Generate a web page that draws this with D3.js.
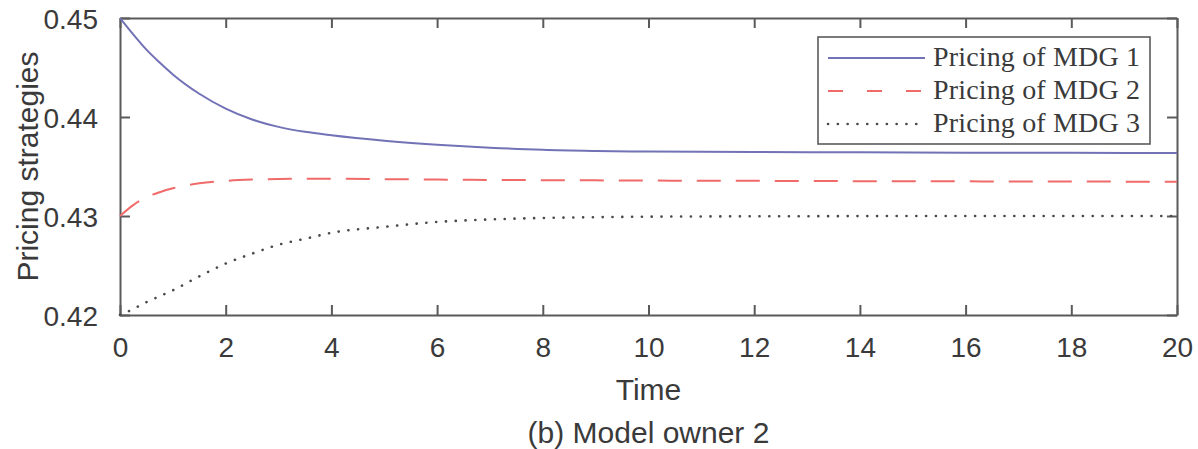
<!DOCTYPE html>
<html>
<head>
<meta charset="utf-8">
<script src="https://cdn.jsdelivr.net/npm/d3@7.9.0/dist/d3.min.js"></script>
<style>
  body { margin: 0; background: #fff; }
  svg { display: block; }
  .axis text { font-family: Arial, "Liberation Sans", sans-serif; fill: #3a3a3a; }
</style>
</head>
<body>
<svg id="chart"></svg>
<script>
// values
const time = [0, 0.25, 0.5, 0.75, 1, 1.5, 2, 2.5, 3, 3.5, 4, 5, 6, 7, 8, 9, 10, 12, 14, 16, 18, 20];
const mdg1 = [0.4500, 0.44835, 0.4468, 0.4455, 0.4443, 0.44235, 0.44085, 0.43975, 0.4390, 0.4385, 0.43815,
  0.4376, 0.4372, 0.4369, 0.43668, 0.43657, 0.43651, 0.43646, 0.43643, 0.43640, 0.43638, 0.43636];
const mdg2 = [0.4300, 0.4311, 0.4319, 0.4324, 0.4328, 0.4333, 0.43355, 0.43368, 0.43374, 0.43376, 0.43376,
  0.43372, 0.43368, 0.43364, 0.43362, 0.43360, 0.43358, 0.43355, 0.43352, 0.43350, 0.43348, 0.43346];
const mdg3 = [0.4200, 0.4206, 0.4213, 0.4219, 0.4225, 0.4239, 0.4252, 0.4262, 0.4271, 0.4277, 0.4283,
  0.4289, 0.4294, 0.42965, 0.4298, 0.42988, 0.42993, 0.42997, 0.42999, 0.4300, 0.4300, 0.4300];
const seriesNames = ['Pricing of MDG 1', 'Pricing of MDG 2', 'Pricing of MDG 3'];
const xTicks = [0, 2, 4, 6, 8, 10, 12, 14, 16, 18, 20];
const yTicks = [0.42, 0.43, 0.44, 0.45];

const width = 1198;
const height = 449;
const margin = { top: 18, right: 21, bottom: 134, left: 120 };

const svg = d3.select('#chart').attr('width', width).attr('height', height);

const x = d3.scaleLinear().domain([0, 20]).range([margin.left, width - margin.right]);
const y = d3.scaleLinear().domain([0.42, 0.45]).range([height - margin.bottom, margin.top]);

const axisColor = '#5a5a5a';

// bottom axis with labels, ticks pointing inward
const gx = svg.append('g').attr('class', 'axis')
  .attr('transform', `translate(0,${y(0.42)})`)
  .call(d3.axisBottom(x).tickValues(xTicks).tickSizeInner(-10).tickSizeOuter(0).tickPadding(22));
gx.selectAll('text').style('font-size', '28px');

const gy = svg.append('g').attr('class', 'axis')
  .attr('transform', `translate(${x(0)},0)`)
  .call(d3.axisLeft(y).tickValues(yTicks).tickFormat(d3.format('.2f')).tickSizeInner(-10).tickSizeOuter(0).tickPadding(22));
gy.selectAll('text').style('font-size', '28px').attr('dy', '0.36em');

// top and right mirrored ticks
svg.append('g').attr('class', 'axis')
  .attr('transform', `translate(0,${y(0.45)})`)
  .call(d3.axisTop(x).tickValues(xTicks).tickSizeInner(-10).tickSizeOuter(0).tickFormat(''));
svg.append('g').attr('class', 'axis')
  .attr('transform', `translate(${x(20)},0)`)
  .call(d3.axisRight(y).tickValues(yTicks).tickSizeInner(-10).tickSizeOuter(0).tickFormat(''));

svg.selectAll('.axis path, .axis line').attr('stroke', axisColor).attr('stroke-width', 2);

// lines
const series = [
  { name: seriesNames[0], values: mdg1, color: '#7272b6', dash: null, legendDash: null },
  { name: seriesNames[1], values: mdg2, color: '#f06a6a', dash: '24,15', legendDash: '15,24' },
  { name: seriesNames[2], values: mdg3, color: '#4a4a4a', dash: '0.1,9.7', legendDash: '0.1,9.7' }
];

const line = d3.line()
  .x((d, i) => x(time[i]))
  .y(d => y(d))
  .curve(d3.curveMonotoneX);

series.forEach(s => {
  svg.append('path')
    .datum(s.values)
    .attr('d', line)
    .attr('fill', 'none')
    .attr('stroke', s.color)
    .attr('stroke-width', s.dash === '0.1,9.7' ? 2.6 : 2)
    .attr('stroke-linecap', s.dash === '0.1,9.7' ? 'round' : 'butt')
    .attr('stroke-dasharray', s.dash);
});

// legend
const legend = svg.append('g').attr('transform', 'translate(818,37)');
legend.append('rect')
  .attr('width', 332).attr('height', 107)
  .attr('fill', '#fff').attr('stroke', axisColor).attr('stroke-width', 1.6);

series.forEach((s, i) => {
  const row = legend.append('g').attr('transform', `translate(0,${21 + i * 33})`);
  row.append('line')
    .attr('x1', 10).attr('x2', 107)
    .attr('stroke', s.color)
    .attr('stroke-width', s.legendDash === '0.1,9.7' ? 2.6 : 2)
    .attr('stroke-linecap', s.legendDash === '0.1,9.7' ? 'round' : 'butt')
    .attr('stroke-dasharray', s.legendDash);
  row.append('text')
    .attr('x', 115).attr('y', 8)
    .attr('textLength', 207)
    .style('font-family', '"Liberation Serif", "DejaVu Serif", serif')
    .style('font-size', '28px')
    .attr('fill', '#3a3a3a')
    .text(s.name);
});

// axis titles and caption
const plotCenter = (x(0) + x(20)) / 2;
svg.append('text')
  .attr('x', plotCenter).attr('y', 400)
  .attr('text-anchor', 'middle')
  .style('font-family', 'Arial, "Liberation Sans", sans-serif').style('font-size', '30px')
  .attr('fill', '#3a3a3a')
  .text('Time');

svg.append('text')
  .attr('x', plotCenter).attr('y', 443)
  .attr('text-anchor', 'middle')
  .style('font-family', 'Arial, "Liberation Sans", sans-serif').style('font-size', '30px')
  .attr('fill', '#3a3a3a')
  .text('(b) Model owner 2');

svg.append('text')
  .attr('transform', `translate(38,${(y(0.42) + y(0.45)) / 2}) rotate(-90)`)
  .attr('text-anchor', 'middle')
  .style('font-family', 'Arial, "Liberation Sans", sans-serif').style('font-size', '30px')
  .attr('fill', '#3a3a3a')
  .text('Pricing strategies');
</script>
</body>
</html>
